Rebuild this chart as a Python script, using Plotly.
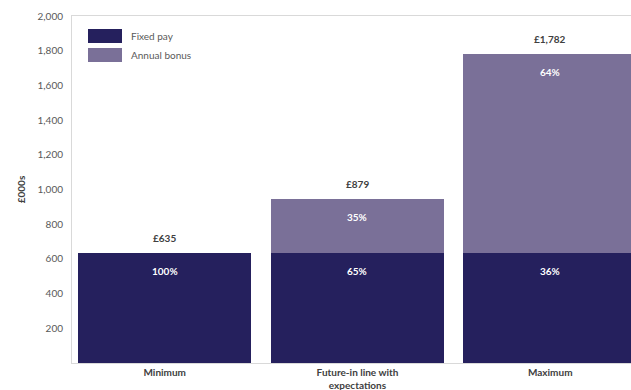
import plotly.graph_objects as go

categories = ["Minimum", "Future-in line with<br>expectations", "Maximum"]
series_names = ["Fixed pay", "Annual bonus"]
fixed_pay = [635, 635, 635]
annual_bonus = [0, 313, 1147]
fixed_pct = ["100%", "65%", "36%"]
bonus_pct = ["", "35%", "64%"]
total_labels = ["£635", "£879", "£1,782"]
y_ticks = [200, 400, 600, 800, 1000, 1200, 1400, 1600, 1800, 2000]

FIXED_C = "#25205d"
BONUS_C = "#7a7098"
COLORS = [FIXED_C, BONUS_C]
FONT = "Lato"
x = [0, 1, 2]

fig = go.Figure()
for name, vals, col in zip(series_names, [fixed_pay, annual_bonus], COLORS):
    fig.add_bar(x=x, y=vals, name=name, marker_color=col,
                marker_line_width=0, width=0.9, showlegend=False)

for i in x:
    total = fixed_pay[i] + annual_bonus[i]
    fig.add_annotation(x=i, y=total, text="<b>" + total_labels[i] + "</b>",
                       showarrow=False, yanchor="bottom", yshift=7,
                       font=dict(family=FONT, size=10, color="#404040"))
    fig.add_annotation(x=i, y=fixed_pay[i], text="<b>" + fixed_pct[i] + "</b>",
                       showarrow=False, yanchor="top", yshift=-10,
                       font=dict(family=FONT, size=10, color="white"))
    if bonus_pct[i]:
        fig.add_annotation(x=i, y=total, text="<b>" + bonus_pct[i] + "</b>",
                           showarrow=False, yanchor="top", yshift=-10,
                           font=dict(family=FONT, size=10, color="white"))

# Legend (large swatches as in the original)
PW, PH = 559.0, 347.0
for k, (name, col) in enumerate(zip(series_names, COLORS)):
    top_px = 13 + k * 19
    fig.add_shape(type="rect", xref="paper", yref="paper",
                  x0=16 / PW, x1=50 / PW,
                  y0=1 - (top_px + 14) / PH, y1=1 - top_px / PH,
                  fillcolor=col, line_width=0)
    fig.add_annotation(xref="paper", yref="paper", x=57 / PW,
                       y=1 - (top_px + 7) / PH, text=name, showarrow=False,
                       xanchor="left", yanchor="middle",
                       font=dict(family=FONT, size=10, color="#595959"))

fig.update_layout(
    barmode="stack",
    width=631, height=390,
    margin=dict(l=72, r=0, t=16, b=27),
    paper_bgcolor="white", plot_bgcolor="white",
    font=dict(family=FONT, size=10, color="#595959"),
    xaxis=dict(range=[-0.481, 2.419], tickvals=x,
               ticktext=["<b>" + c + "</b>" for c in categories],
               tickfont=dict(family=FONT, size=10, color="#404040"),
               showline=True, linecolor="#d9d9d9", linewidth=1, mirror=True,
               showgrid=False, zeroline=False, ticks=""),
    yaxis=dict(range=[0, 2000], tickvals=y_ticks,
               ticktext=[f"{v:,}" for v in y_ticks],
               tickfont=dict(family=FONT, size=10, color="#595959"),
               showline=True, linecolor="#d9d9d9", linewidth=1, mirror=True,
               showgrid=False, zeroline=False, ticks="", ticklabelstandoff=6,
               title=dict(text="<b>£000s</b>", standoff=10,
                          font=dict(family=FONT, size=10, color="#404040"))),
)

fig.write_html("out.html")
